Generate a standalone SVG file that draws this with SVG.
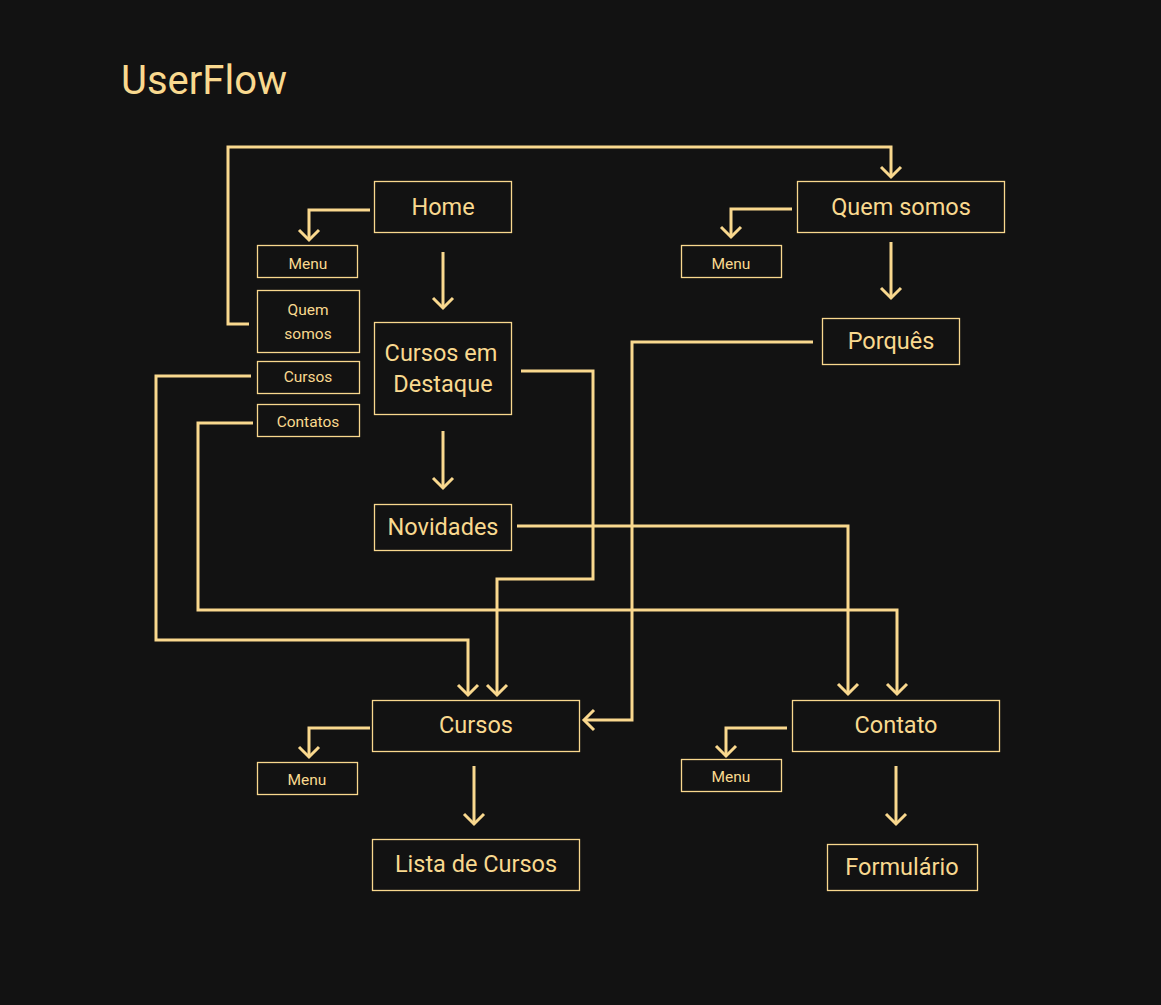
<svg xmlns="http://www.w3.org/2000/svg" width="1161" height="1005" viewBox="0 0 1161 1005">
<defs>
<style>
.bg{fill:#121212}
.box{fill:#121212;stroke:#F9D88E;stroke-width:1.3}
.t{fill:#F9D98F;font-family:Roboto,"Liberation Sans",sans-serif;text-anchor:middle}
.big{font-size:23.5px}
.sm{font-size:15.5px}
.c{fill:none;stroke:#F9D88E;stroke-width:3;stroke-linejoin:miter}
</style>
<marker id="ah" viewBox="-13 -13 26 26" markerWidth="26" markerHeight="26" markerUnits="userSpaceOnUse" refX="0" refY="0" orient="auto">
<path d="M-10,-10 L0,0 L-10,10" fill="none" stroke="#F9D88E" stroke-width="3"/>
</marker>
</defs>
<rect class="bg" x="0" y="0" width="1161" height="1005"/>
<text x="121" y="94" fill="#F9D98F" font-family="Roboto,'Liberation Sans',sans-serif" font-size="40">UserFlow</text>

<g id="connectors">
<path class="c" d="M370,210 H309 V240" marker-end="url(#ah)"/>
<path class="c" d="M443,252 V308" marker-end="url(#ah)"/>
<path class="c" d="M249,324 H228 V147 H891 V177" marker-end="url(#ah)"/>
<path class="c" d="M792,209 H731 V237" marker-end="url(#ah)"/>
<path class="c" d="M891,242 V298" marker-end="url(#ah)"/>
<path class="c" d="M813,342 H632 V720 H584" marker-end="url(#ah)"/>
<path class="c" d="M521,371 H593 V579 H497 V695" marker-end="url(#ah)"/>
<path class="c" d="M251,376 H156 V640 H468 V695" marker-end="url(#ah)"/>
<path class="c" d="M253,423 H198 V610 H897 V694" marker-end="url(#ah)"/>
<path class="c" d="M517,526 H848 V694" marker-end="url(#ah)"/>
<path class="c" d="M443,431 V488" marker-end="url(#ah)"/>
<path class="c" d="M370,728 H309 V757" marker-end="url(#ah)"/>
<path class="c" d="M474,766 V824" marker-end="url(#ah)"/>
<path class="c" d="M787,728 H726 V756" marker-end="url(#ah)"/>
<path class="c" d="M896,766 V824" marker-end="url(#ah)"/>
</g>

<g id="home"><rect class="box" x="374.5" y="181.5" width="137" height="51"/><text class="t big" x="443" y="215">Home</text></g>
<g id="menu-home"><rect class="box" x="257.5" y="245.5" width="100" height="32"/><text class="t sm" x="308" y="269">Menu</text></g>
<g id="quem-somos-link"><rect class="box" x="257.5" y="290.5" width="102" height="62"/><text class="t sm" x="308" y="315">Quem</text><text class="t sm" x="308" y="339">somos</text></g>
<g id="cursos-link"><rect class="box" x="257.5" y="361.5" width="102" height="32"/><text class="t sm" x="308" y="382">Cursos</text></g>
<g id="contatos-link"><rect class="box" x="257.5" y="404.5" width="102" height="32"/><text class="t sm" x="308" y="427">Contatos</text></g>
<g id="cursos-destaque"><rect class="box" x="374.5" y="322.5" width="137" height="92"/><text class="t big" x="441" y="361">Cursos em</text><text class="t big" x="443" y="392">Destaque</text></g>
<g id="novidades"><rect class="box" x="374.5" y="504.5" width="137" height="46"/><text class="t big" x="443" y="535">Novidades</text></g>
<g id="quem-somos"><rect class="box" x="797.5" y="181.5" width="207" height="51"/><text class="t big" x="901" y="215">Quem somos</text></g>
<g id="menu-quem"><rect class="box" x="681.5" y="245.5" width="100" height="32"/><text class="t sm" x="731" y="269">Menu</text></g>
<g id="porques"><rect class="box" x="822.5" y="318.5" width="137" height="46"/><text class="t big" x="891" y="349">Porquês</text></g>
<g id="cursos"><rect class="box" x="372.5" y="700.5" width="207" height="51"/><text class="t big" x="476" y="733">Cursos</text></g>
<g id="menu-cursos"><rect class="box" x="257.5" y="762.5" width="100" height="32"/><text class="t sm" x="307" y="785">Menu</text></g>
<g id="lista-cursos"><rect class="box" x="372.5" y="839.5" width="207" height="51"/><text class="t big" x="476" y="872">Lista de Cursos</text></g>
<g id="contato"><rect class="box" x="792.5" y="700.5" width="207" height="51"/><text class="t big" x="896" y="733">Contato</text></g>
<g id="menu-contato"><rect class="box" x="681.5" y="759.5" width="100" height="32"/><text class="t sm" x="731" y="782">Menu</text></g>
<g id="formulario"><rect class="box" x="827.5" y="844.5" width="150" height="46"/><text class="t big" x="902" y="875">Formulário</text></g>
</svg>
